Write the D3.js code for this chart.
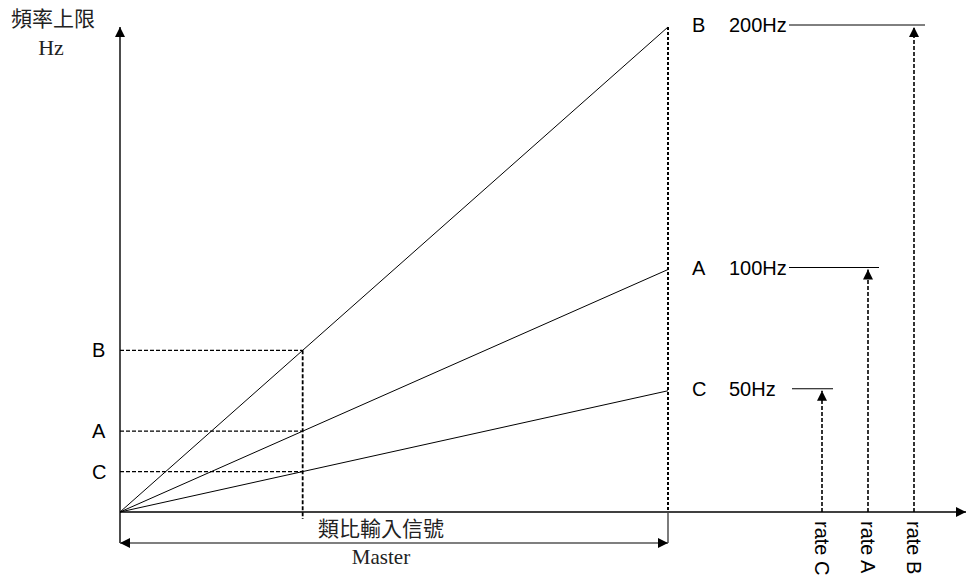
<!DOCTYPE html>
<html><head><meta charset="utf-8">
<script src="https://cdn.jsdelivr.net/npm/d3@7"></script>
<style>body{margin:0;background:#fff}svg{display:block}</style>
</head><body>
<script>
// ---- data ----
const rateNames = ["B", "A", "C"];
const rateMaxHz = [200, 100, 50];
const rateLabels = ["200Hz", "100Hz", "50Hz"];
const rateAxisLabels = ["rate B", "rate A", "rate C"];
const masterPoint = 1 / 3;          // analog input position shown with dashed guide
const masterMax = 1;
const yTitle = ["頻率上限", "Hz"];
const xTitle = "類比輸入信號";
const xSubTitle = "Master";

const W = 969, H = 577;
const SANS = "'Liberation Sans', Arial, sans-serif";
const SERIF = "'Liberation Serif', 'Times New Roman', serif";
const CJK = "'Noto Sans CJK TC', 'Noto Sans CJK SC', sans-serif";
const svg = d3.select("body").append("svg").attr("width", W).attr("height", H);

const x = d3.scaleLinear().domain([0, masterMax]).range([120, 668]);
const y = d3.scaleLinear().domain([0, 200]).range([512, 27]);
const rx = d3.scalePoint().domain(["C", "A", "B"]).range([822, 914]);

const defs = svg.append("defs");
function marker(id, orient) {
  defs.append("marker").attr("id", id).attr("viewBox", "0 0 10 10")
    .attr("refX", 10).attr("refY", 5).attr("markerWidth", 10).attr("markerHeight", 10)
    .attr("markerUnits", "userSpaceOnUse").attr("orient", orient)
    .append("path").attr("d", "M0,0L10,5L0,10Z").attr("fill", "#000");
}
marker("arr", "auto");
marker("arrS", "auto-start-reverse");

const data = rateNames.map((n, i) => ({ name: n, max: rateMaxHz[i], label: rateLabels[i], axis: rateAxisLabels[i] }));
const x0 = x(0), y0 = y(0);

// axes
svg.append("line").attr("x1", x0).attr("y1", 543).attr("x2", x0).attr("y2", y(200)).attr("stroke", "#000").attr("stroke-width", 1.4).attr("marker-end", "url(#arr)");
svg.append("line").attr("x1", x0).attr("y1", y0).attr("x2", 966).attr("y2", y0).attr("stroke", "#000").attr("stroke-width", 1.4).attr("marker-end", "url(#arr)");
svg.append("line").attr("x1", x(masterMax)).attr("y1", y0).attr("x2", x(masterMax)).attr("y2", 543).attr("stroke", "#444").attr("stroke-width", 1.4);

// dashed vertical at master max
svg.append("line").attr("x1", x(masterMax)).attr("y1", y(200)).attr("x2", x(masterMax)).attr("y2", y0)
  .attr("stroke", "#000").attr("stroke-width", 2).attr("stroke-dasharray", "3,2");

// lines
svg.selectAll(".rl").data(data).enter().append("line")
  .attr("x1", x0).attr("y1", y0).attr("x2", x(masterMax)).attr("y2", d => y(d.max))
  .attr("stroke", "#000").attr("stroke-width", 1);

// dashed guides at master point
const maxAtPoint = d3.max(data, d => d.max * masterPoint / masterMax);
svg.append("line").attr("x1", x(masterPoint)).attr("x2", x(masterPoint)).attr("y1", y(maxAtPoint)).attr("y2", 519)
  .attr("stroke", "#000").attr("stroke-width", 1.8).attr("stroke-dasharray", "4,2");
svg.selectAll(".hg").data(data).enter().append("line")
  .attr("x1", x0).attr("x2", x(masterPoint)).attr("y1", d => y(d.max * masterPoint / masterMax)).attr("y2", d => y(d.max * masterPoint / masterMax))
  .attr("stroke", "#000").attr("stroke-width", 1.4).attr("stroke-dasharray", "4,2");
svg.selectAll(".ll").data(data).enter().append("text")
  .attr("x", 92).attr("y", d => y(d.max * masterPoint / masterMax) + 7)
  .attr("font-family", SANS).attr("font-size", 20).text(d => d.name);

// right labels
svg.selectAll(".rn").data(data).enter().append("text")
  .attr("x", 692).attr("y", d => y(d.max) + 5)
  .attr("font-family", SANS).attr("font-size", 20).text(d => d.name);
svg.selectAll(".rv").data(data).enter().append("text")
  .attr("x", 729).attr("y", d => y(d.max) + 5)
  .attr("font-family", SANS).attr("font-size", 20).text(d => d.label);
svg.selectAll(".rh").data(data).enter().append("line")
  .attr("x1", d => d.name === "C" ? 792 : 789).attr("x2", d => rx(d.name) + 11)
  .attr("y1", d => y(d.max) - 2).attr("y2", d => y(d.max) - 2)
  .attr("stroke", "#000").attr("stroke-width", 1);
// rate arrows
svg.selectAll(".ra").data(data).enter().append("line")
  .attr("x1", d => rx(d.name)).attr("x2", d => rx(d.name)).attr("y1", y0).attr("y2", d => y(d.max))
  .attr("stroke", "#000").attr("stroke-width", 1.6).attr("stroke-dasharray", "4,2").attr("marker-end", "url(#arr)");
svg.selectAll(".rt").data(data).enter().append("text")
  .attr("transform", d => `translate(${rx(d.name) - 7},521) rotate(90)`)
  .attr("font-family", SANS).attr("font-size", 20).text(d => d.axis);

// bottom double arrow
svg.append("line").attr("x1", x0).attr("x2", x(masterMax)).attr("y1", 543).attr("y2", 543)
  .attr("stroke", "#555").attr("stroke-width", 1.6).attr("marker-start", "url(#arrS)").attr("marker-end", "url(#arr)");
svg.append("text").attr("x", 381).attr("y", 536).attr("text-anchor", "middle")
  .attr("font-family", CJK).attr("font-size", 21).attr("fill", "#222").text(xTitle);
svg.append("text").attr("x", 381).attr("y", 564).attr("text-anchor", "middle")
  .attr("font-family", SERIF).attr("font-size", 21).attr("fill", "#222").text(xSubTitle);

// y title
svg.append("text").attr("x", 53).attr("y", 26).attr("text-anchor", "middle")
  .attr("font-family", CJK).attr("font-size", 21).attr("fill", "#222").text(yTitle[0]);
svg.append("text").attr("x", 51).attr("y", 55).attr("text-anchor", "middle")
  .attr("font-family", SERIF).attr("font-size", 22).attr("fill", "#222").text(yTitle[1]);
</script>
</body></html>
